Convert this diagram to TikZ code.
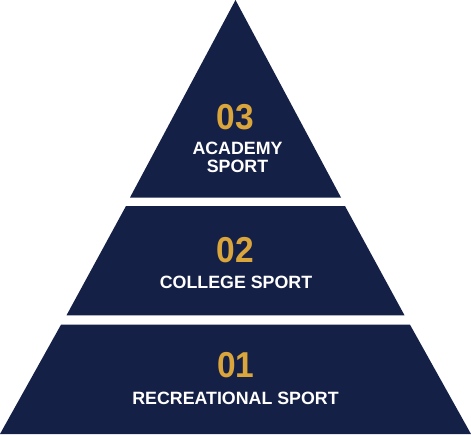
\documentclass[tikz,border=0pt]{standalone}
\usepackage{fontspec}
\setmainfont{Liberation Sans}
\newfontfamily\numfont[FakeStretch=0.93]{Liberation Sans Bold}
\definecolor{navy}{RGB}{21,32,71}
\definecolor{gold}{RGB}{218,166,60}
\tikzset{
  layer/.style={fill=navy},
  num/.style={font=\numfont\fontsize{36}{36}\selectfont, text=gold, inner sep=0pt, anchor=base},
  lbl/.style={font=\bfseries\fontsize{17.8}{18}\selectfont, text=white, inner sep=0pt, anchor=base}
}
\begin{document}
\begin{tikzpicture}[x=1pt,y=-1pt]
\useasboundingbox (0,0) rectangle (471,434);
\fill[layer] (235.5,0) -- (341,197.5) -- (130,197.5) -- cycle;
\fill[layer] (126,206) -- (345,206) -- (404.5,315.3) -- (66.5,315.3) -- cycle;
\fill[layer] (61,324.7) -- (410,324.7) -- (471,434) -- (0,434) -- cycle;
\node[num] (n3) at (235.5,129) {03};
\node[lbl] (l3a) at (237.5,154) {ACADEMY};
\node[lbl] (l3b) at (237.5,172) {SPORT};
\node[num] (n2) at (235.5,262.3) {02};
\node[lbl] (l2) at (236,288.3) {COLLEGE SPORT};
\node[num] (n1) at (236,377.3) {01};
\node[lbl] (l1) at (235.5,404.3) {RECREATIONAL SPORT};
\end{tikzpicture}
\end{document}
